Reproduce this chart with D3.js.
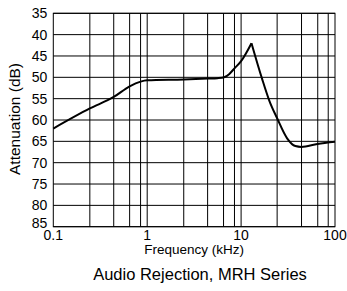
<!DOCTYPE html>
<html>
<head>
<meta charset="utf-8">
<script src="https://cdn.jsdelivr.net/npm/d3@7"></script>
<style>
  html, body { margin: 0; padding: 0; background: #fff; }
  svg { display: block; font-family: "Liberation Sans", Arial, sans-serif; }
</style>
</head>
<body>
<svg id="chart" width="347" height="291"></svg>
<script>
// Data
const freqKHz = [0.1, 0.245, 0.44, 0.65, 0.85, 1.0, 2.45, 4.4, 5.6, 6.6, 7.5, 8.5, 10, 12.9, 16.7, 20, 24.2, 30.9, 37.8, 43.8, 65, 100];
const attenuationDB = [62, 57.3, 54.6, 52.1, 51.0, 50.7, 50.5, 50.3, 50.2, 50.0, 49.2, 47.9, 46.2, 42, 50.3, 55.5, 59.6, 64.3, 66.1, 66.3, 65.6, 65.1];

const yTicks = [35, 40, 45, 50, 55, 60, 65, 70, 75, 80, 85];
const xTickLabels = [0.1, 1, 10, 100];
const xGridValues = [0.245, 0.44, 0.65, 0.85, 1, 2.45, 4.4, 6.5, 8.5, 10, 24.2, 44, 65.5, 84.7];

const title = "Audio Rejection, MRH Series";
const xTitle = "Frequency (kHz)";
const yTitle = "Attenuation (dB)";

(function () {
const svg = d3.select("#chart");
const mLeft = 53.3, mRight = 335, mTop = 13.3, mBottom = 226.7;

const x = d3.scaleLog().domain([0.1, 100]).range([mLeft, mRight]);
const y = d3.scaleLinear().domain([35, 85]).range([mTop, mBottom]);

// horizontal grid
svg.append("g").selectAll("line").data(yTicks).join("line")
  .attr("x1", mLeft).attr("x2", mRight)
  .attr("y1", d => y(d)).attr("y2", d => y(d))
  .attr("stroke", "#000").attr("stroke-width", 1);

// vertical grid
svg.append("g").selectAll("line").data(xGridValues).join("line")
  .attr("x1", d => x(d)).attr("x2", d => x(d))
  .attr("y1", mTop).attr("y2", mBottom)
  .attr("stroke", "#000").attr("stroke-width", 1);

// frame
svg.append("rect")
  .attr("x", mLeft).attr("y", mTop)
  .attr("width", mRight - mLeft).attr("height", mBottom - mTop)
  .attr("fill", "none").attr("stroke", "#000").attr("stroke-width", 1);

// y tick labels
svg.append("g").selectAll("text").data(yTicks).join("text")
  .attr("x", mLeft - 6).attr("y", d => y(d))
  .attr("dy", d => d === 85 ? "0.1em" : "0.35em")
  .attr("text-anchor", "end")
  .attr("font-size", 14)
  .text(d => d);

// x tick labels
svg.append("g").selectAll("text").data(xTickLabels).join("text")
  .attr("x", d => x(d)).attr("y", mBottom + 13)
  .attr("text-anchor", "middle")
  .attr("font-size", 14)
  .text(d => d);

// curve: drawn as two monotone pieces meeting at the sharp peak
const peakIdx = attenuationDB.indexOf(d3.min(attenuationDB));
const pts = freqKHz.map((f, i) => [f, attenuationDB[i]]);
const line = d3.line()
  .x(d => x(d[0]))
  .y(d => y(d[1]))
  .curve(d3.curveMonotoneX);

[pts.slice(0, peakIdx + 1), pts.slice(peakIdx)].forEach(seg => {
  svg.append("path")
    .datum(seg)
    .attr("d", line)
    .attr("fill", "none")
    .attr("stroke", "#000")
    .attr("stroke-width", 2)
    .attr("stroke-linejoin", "round");
});

// axis titles
svg.append("text")
  .attr("x", (mLeft + mRight) / 2).attr("y", 254)
  .attr("text-anchor", "middle")
  .attr("font-size", 13.5)
  .text(xTitle);

svg.append("text")
  .attr("transform", `translate(19.5,${(mTop + mBottom) / 2 - 1}) rotate(-90)`)
  .attr("text-anchor", "middle")
  .attr("font-size", 15.5)
  .text(yTitle);

svg.append("text")
  .attr("x", 200).attr("y", 280)
  .attr("text-anchor", "middle")
  .attr("font-size", 16.5)
  .text(title);
})();
</script>
</body>
</html>
